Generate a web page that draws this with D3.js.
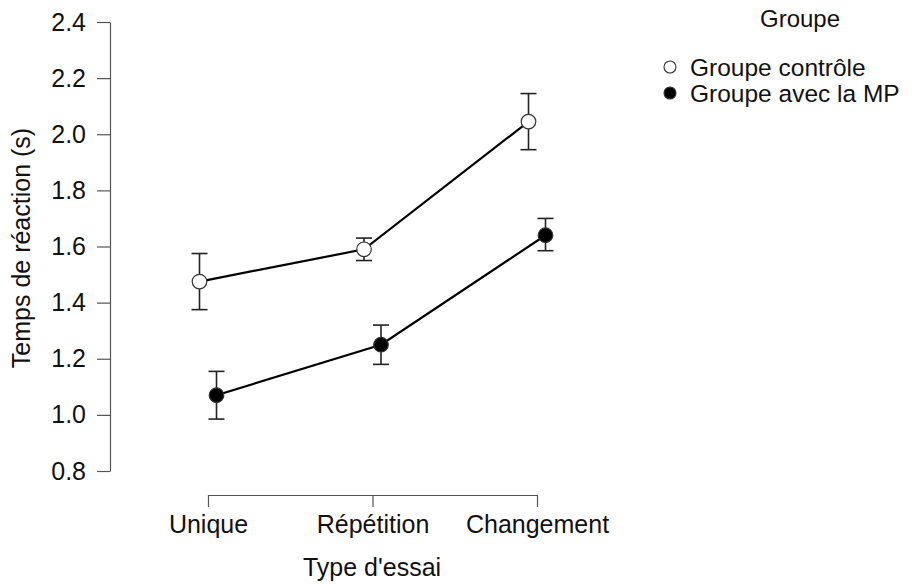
<!DOCTYPE html>
<html><head><meta charset="utf-8">
<script src="https://cdn.jsdelivr.net/npm/d3@7"></script>
<style>body{margin:0;background:#fff}svg{display:block}text{font-family:"Liberation Sans",Arial,sans-serif;fill:#111}</style>
</head><body>
<svg id="c" width="912" height="586"></svg>
<script>
const categories = ["Unique", "Répétition", "Changement"];
const groups = ["Groupe contrôle", "Groupe avec la MP"];
const controlMean = [1.475, 1.59, 2.045];
const controlLow  = [1.375, 1.55, 1.945];
const controlHigh = [1.575, 1.63, 2.145];
const mpMean = [1.07, 1.25, 1.64];
const mpLow  = [0.985, 1.18, 1.585];
const mpHigh = [1.155, 1.32, 1.70];
const yTicks = [0.8, 1.0, 1.2, 1.4, 1.6, 1.8, 2.0, 2.2, 2.4];

const FS = 25;
const svg = d3.select("#c");
const x = d3.scalePoint().domain(categories).range([208, 537]);
const y = d3.scaleLinear().domain([0.8, 2.4]).range([471, 22]);
const dodge = d3.scalePoint().domain(groups).range([-8.5, 8.5]);

// Y axis
const ya = svg.append("g").attr("transform", "translate(110,0)")
  .call(d3.axisLeft(y).tickValues(yTicks).tickFormat(d3.format(".1f")).tickSize(13).tickSizeOuter(0).tickPadding(11));
ya.select(".domain").attr("stroke", "#555").attr("stroke-width", 1.2);
ya.selectAll(".tick line").attr("stroke", "#555").attr("stroke-width", 1.2);
ya.selectAll(".tick text").attr("font-size", FS).attr("font-family", "Liberation Sans, Arial, sans-serif").attr("fill", "#111");

// X axis
const xa = svg.append("g").attr("transform", "translate(0,495)")
  .call(d3.axisBottom(x).tickSize(12).tickSizeOuter(0).tickPadding(8));
xa.select(".domain").attr("stroke", "#555").attr("stroke-width", 1.2);
xa.selectAll(".tick line").attr("stroke", "#555").attr("stroke-width", 1.2);
xa.selectAll(".tick text").attr("font-size", FS).attr("font-family", "Liberation Sans, Arial, sans-serif").attr("fill", "#111");

// Axis titles
svg.append("text").attr("x", 372).attr("y", 576).attr("text-anchor", "middle").attr("font-size", FS).text("Type d'essai");
svg.append("text").attr("transform", "translate(30,248) rotate(-90)").attr("text-anchor", "middle").attr("font-size", FS).text("Temps de réaction (s)");

const series = [
  {name: groups[0], mean: controlMean, low: controlLow, high: controlHigh, fill: "#fff"},
  {name: groups[1], mean: mpMean, low: mpLow, high: mpHigh, fill: "#000"}
];

series.forEach(s => {
  const pts = categories.map((c, i) => ({cx: x(c) + dodge(s.name), m: s.mean[i], lo: s.low[i], hi: s.high[i]}));
  svg.append("path").datum(pts)
    .attr("d", d3.line().x(d => d.cx).y(d => y(d.m)))
    .attr("fill", "none").attr("stroke", "#000").attr("stroke-width", 2.2);
  const eb = svg.append("g").selectAll("g").data(pts).join("g").attr("stroke", "#222").attr("stroke-width", 1.6);
  eb.append("line").attr("x1", d => d.cx).attr("x2", d => d.cx).attr("y1", d => y(d.lo)).attr("y2", d => y(d.hi));
  eb.append("line").attr("x1", d => d.cx - 8).attr("x2", d => d.cx + 8).attr("y1", d => y(d.lo)).attr("y2", d => y(d.lo));
  eb.append("line").attr("x1", d => d.cx - 8).attr("x2", d => d.cx + 8).attr("y1", d => y(d.hi)).attr("y2", d => y(d.hi));
  svg.append("g").selectAll("circle").data(pts).join("circle")
    .attr("cx", d => d.cx).attr("cy", d => y(d.m)).attr("r", 7.3)
    .attr("fill", s.fill).attr("stroke", "#333").attr("stroke-width", 1.2);
});

// Legend
svg.append("text").attr("x", 800).attr("y", 27).attr("text-anchor", "middle").attr("font-size", 24).text("Groupe");
const lg = svg.append("g").selectAll("g").data(series).join("g")
  .attr("transform", (d, i) => `translate(670,${67 + i * 26})`);
lg.append("circle").attr("r", 6).attr("fill", d => d.fill).attr("stroke", "#333").attr("stroke-width", 1.1);
lg.append("text").attr("x", 20).attr("dy", "0.35em").attr("font-size", 24.5).text(d => d.name);
</script>
</body></html>
